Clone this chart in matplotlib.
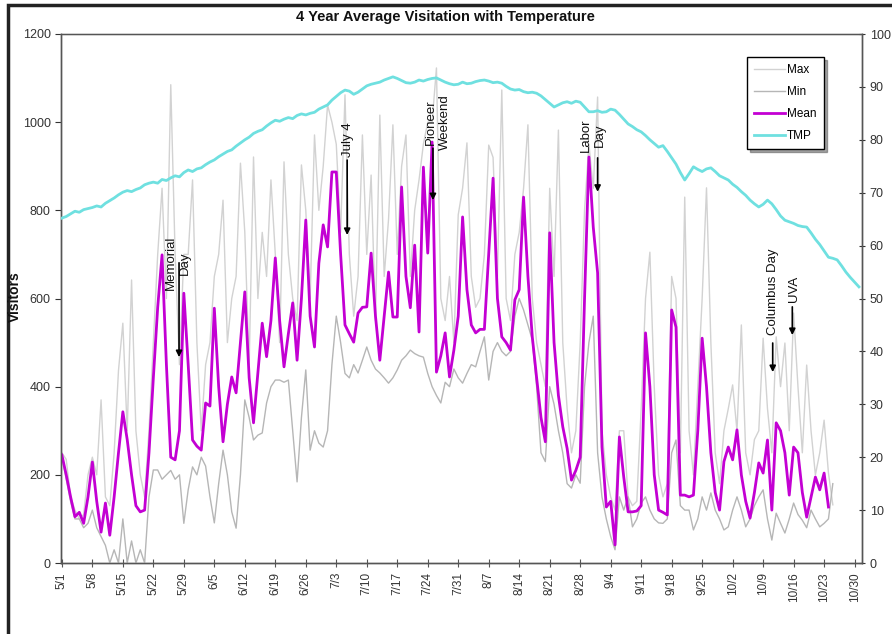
import matplotlib
matplotlib.use("Agg")
import matplotlib.pyplot as plt
from matplotlib.lines import Line2D
from matplotlib.patches import Rectangle

plt.rcParams['font.family'] = ['Liberation Sans', 'DejaVu Sans']

# ---------------- data ----------------
tick_labels = ['5/1', '5/8', '5/15', '5/22', '5/29', '6/5', '6/12', '6/19', '6/26',
               '7/3', '7/10', '7/17', '7/24', '7/31', '8/7', '8/14', '8/21', '8/28',
               '9/4', '9/11', '9/18', '9/25', '10/2', '10/9', '10/16', '10/23', '10/30']

mean_visitors = [
    245, 200, 150, 105, 115, 90, 150, 229, 140, 70,
    136, 63, 150, 250, 343, 280, 200, 130, 116, 120,
    250, 420, 580, 699, 450, 240, 234, 300, 612, 450,
    279, 265, 256, 363, 356, 578, 400, 275, 360, 422,
    386, 500, 615, 420, 318, 430, 544, 468, 550, 692,
    550, 445, 520, 590, 460, 600, 778, 560, 490, 680,
    767, 717, 887, 887, 700, 540, 520, 501, 567, 580,
    581, 703, 560, 460, 560, 660, 558, 558, 853, 650,
    579, 721, 524, 898, 703, 955, 433, 470, 522, 422,
    483, 560, 785, 620, 540, 522, 530, 530, 700, 873,
    600, 513, 500, 483, 597, 620, 830, 650, 513, 420,
    330, 275, 749, 500, 380, 309, 260, 188, 210, 240,
    600, 921, 762, 658, 263, 127, 140, 41, 286, 195,
    116, 116, 118, 130, 522, 400, 200, 120, 115, 109,
    574, 535, 154, 154, 150, 154, 300, 510, 400, 250,
    160, 120, 230, 263, 234, 302, 200, 140, 102, 160,
    227, 204, 279, 120, 318, 300, 250, 154, 263, 250,
    160, 104, 150, 195, 166, 204, 127]

max_visitors = [
    250, 235, 150, 120, 100, 110, 200, 240, 200, 370,
    150, 130, 250, 437, 544, 300, 642, 300, 200, 150,
    300, 500, 700, 850, 600, 1085, 700, 450, 700, 700,
    869, 500, 300, 450, 500, 650, 700, 823, 500, 600,
    650, 907, 750, 450, 921, 600, 750, 650, 869, 700,
    500, 910, 700, 600, 550, 903, 800, 600, 971, 800,
    900, 1039, 1000, 950, 750, 1062, 700, 560, 650, 971,
    700, 880, 550, 1016, 650, 780, 994, 700, 900, 971,
    650, 800, 869, 950, 1000, 1000, 1123, 600, 550, 650,
    500, 790, 850, 953, 650, 580, 600, 700, 948, 920,
    650, 1073, 600, 550, 700, 750, 850, 994, 600, 500,
    450, 400, 850, 650, 982, 500, 350, 250, 300, 500,
    800, 950, 850, 1057, 300, 200, 150, 120, 300, 300,
    150, 130, 140, 350, 600, 705, 400, 200, 150, 180,
    650, 600, 250, 830, 300, 200, 400, 600, 851, 500,
    250, 180, 300, 350, 404, 300, 540, 250, 200, 280,
    300, 510, 350, 250, 513, 400, 499, 300, 567, 400,
    250, 449, 300, 200, 250, 324, 204, 132]

min_visitors = [
    240, 190, 140, 100, 100, 80, 90, 120, 80, 60,
    40, 0, 30, 0, 100, 0, 50, 0, 30, 0,
    150, 211, 211, 190, 200, 210, 190, 200, 90, 166,
    218, 200, 240, 220, 150, 91, 180, 256, 200, 116,
    79, 200, 370, 330, 279, 290, 295, 363, 400, 415,
    415, 410, 415, 300, 184, 330, 438, 256, 300, 272,
    263, 300, 450, 560, 500, 430, 420, 450, 431, 460,
    490, 460, 440, 431, 420, 408, 420, 438, 460, 470,
    483, 475, 470, 467, 430, 400, 380, 363, 410, 400,
    440, 420, 408, 430, 450, 445, 480, 513, 415, 480,
    500, 480, 470, 480, 560, 600, 574, 540, 506, 400,
    250, 230, 400, 360, 300, 250, 180, 170, 200, 181,
    400, 500, 560, 250, 150, 100, 60, 30, 150, 120,
    150, 82, 100, 136, 150, 120, 100, 91, 90, 100,
    250, 279, 130, 120, 120, 75, 100, 150, 120, 159,
    120, 100, 75, 82, 120, 150, 120, 82, 100, 130,
    150, 166, 100, 52, 113, 90, 68, 100, 136, 110,
    97, 80, 120, 100, 82, 90, 100, 180]

tmp = [
    65.2, 65.5, 66.0, 66.5, 66.3, 66.8, 67.0, 67.2, 67.5, 67.3,
    68.0, 68.5, 69.0, 69.6, 70.1, 70.4, 70.2, 70.6, 70.9, 71.5,
    71.8, 72.0, 71.8, 72.5, 72.3, 72.8, 73.2, 73.0, 73.8, 74.3,
    74.0, 74.5, 74.7, 75.3, 75.8, 76.2, 76.8, 77.3, 77.8, 78.1,
    78.8, 79.4, 80.0, 80.5, 81.2, 81.6, 81.9, 82.6, 83.2, 83.7,
    83.5, 83.9, 84.2, 84.0, 84.6, 84.9, 84.7, 85.0, 85.2, 85.8,
    86.2, 86.6, 87.5, 88.2, 88.9, 89.4, 89.2, 88.6, 89.0, 89.6,
    90.2, 90.5, 90.7, 90.9, 91.3, 91.6, 91.9, 91.6, 91.2, 90.8,
    90.7, 90.9, 91.3, 91.1, 91.4, 91.6, 91.7, 91.3, 90.9, 90.6,
    90.4, 90.5, 90.9, 90.6, 90.7, 91.0, 91.2, 91.3, 91.1, 90.8,
    90.9, 90.7, 90.1, 89.6, 89.4, 89.5, 89.1, 88.9, 89.0, 88.8,
    88.3, 87.6, 86.9, 86.2, 86.6, 87.0, 87.2, 86.9, 87.3, 87.1,
    86.2, 85.3, 85.3, 85.5, 85.2, 85.3, 85.8, 85.6, 84.8, 83.9,
    83.0, 82.5, 81.9, 81.5, 80.8, 80.0, 79.3, 78.6, 78.9, 77.8,
    76.6, 75.4, 73.8, 72.4, 73.6, 74.9, 74.4, 74.0, 74.5, 74.7,
    74.0, 73.2, 72.8, 72.4, 71.6, 71.0, 70.2, 69.5, 68.6, 67.9,
    67.3, 67.8, 68.6, 67.9, 66.8, 65.6, 64.8, 64.5, 64.2, 63.8,
    63.6, 63.5, 62.4, 61.2, 60.2, 59.0, 57.8, 57.6, 57.3, 56.2,
    55.0, 54.0, 53.1, 52.2]

# annotations: label, text day, text bottom value, arrow day, arrow start, arrow end
events = [
    ('Memorial\nDay', 26.6, 619, 26.9, 681, 467),
    ('July 4', 65.8, 921, 65.5, 914, 744),
    ('Pioneer\nWeekend', 86.3, 937, 85.2, 941, 823),
    ('Labor\nDay', 121.9, 932, 123.0, 919, 842),
    ('Columbus Day', 163.3, 517, 163.2, 499, 433),
    ('UVA', 168.0, 592, 167.7, 581, 517),
]

# ---------------- figure ----------------
W, H = 892, 634
fig = plt.figure(figsize=(W / 100, H / 100), dpi=100)
fig.patch.set_facecolor('white')

# outer chart frame (dark border on top/left)
fig.add_artist(Rectangle((8 / W, -0.05), 1.2, 1 - 5 / H + 0.05, transform=fig.transFigure,
                         fill=False, edgecolor='#222222', linewidth=2.5))

ax = fig.add_axes([61 / W, 1 - 563 / H, (862 - 61) / W, (563 - 34) / H])
ax2 = ax.twinx()

c_max = '#d2d2d2'
c_min = '#b6b6b6'
c_mean = '#c300d3'
c_tmp = '#6fe0e0'

ax.plot(range(len(max_visitors)), max_visitors, color=c_max, lw=1.0, zorder=2)
ax.plot(range(len(min_visitors)), min_visitors, color=c_min, lw=1.0, zorder=3)
ax.plot(range(len(mean_visitors)), mean_visitors, color=c_mean, lw=2.0, zorder=4)
ax2.plot(range(len(tmp)), tmp, color=c_tmp, lw=2.0, zorder=4)

ax.set_xlim(-0.2, 183.7)
ax.set_ylim(0, 1200)
ax2.set_ylim(0, 100)
ax.set_yticks(range(0, 1201, 200))
ax2.set_yticks(range(0, 101, 10))
ax.set_xticks([7 * i for i in range(len(tick_labels))])
ax.set_xticklabels(tick_labels, rotation=90, fontsize=8.5, color='#333333')

for a in (ax, ax2):
    for s in a.spines.values():
        s.set_color('#555555')
        s.set_linewidth(1.0)
ax.spines['top'].set_color('#aaaaaa')
ax.tick_params(axis='y', labelsize=9, colors='#333333', length=4, direction='out')
ax2.tick_params(axis='y', labelsize=9, colors='#333333', length=4, direction='inout')
ax.tick_params(axis='x', length=6, direction='inout', colors='#555555', labelcolor='#333333')

for label, tx, ty, axx, ay0, ay1 in events:
    ax.text(tx, ty, label, rotation=90, ha='center', va='bottom', fontsize=9.5,
            multialignment='center', color='#111111', zorder=6)
    ax.annotate('', xy=(axx, ay1), xytext=(axx, ay0),
                arrowprops=dict(arrowstyle='-|>', color='black', lw=1.2,
                                mutation_scale=9, shrinkA=0, shrinkB=0), zorder=6)

fig.text(445 / W, 1 - 17 / H, '4 Year Average Visitation with Temperature',
         ha='center', va='center', fontsize=10.5, fontweight='bold', color='#111111')
fig.text(15 / W, 1 - 297 / H, 'Visitors', rotation=90, ha='center', va='center',
         fontsize=10, fontweight='bold', color='#111111')

handles = [Line2D([], [], color=c_max, lw=1.0),
           Line2D([], [], color=c_min, lw=1.0),
           Line2D([], [], color=c_mean, lw=2.0),
           Line2D([], [], color=c_tmp, lw=2.0)]
leg = ax2.legend(handles, ['Max', 'Min', 'Mean', 'TMP'], loc='upper left',
                 bbox_to_anchor=(747 / W, 1 - 57 / H), bbox_transform=fig.transFigure,
                 fontsize=8.5, frameon=True, fancybox=False, shadow=True,
                 edgecolor='black', framealpha=1, handlelength=2.6, handletextpad=0.2,
                 labelspacing=0.85, borderpad=0.6, borderaxespad=0)
leg.get_frame().set_linewidth(1.0)
leg.set_zorder(10)

fig.savefig('out.png', dpi=100, facecolor='white')
